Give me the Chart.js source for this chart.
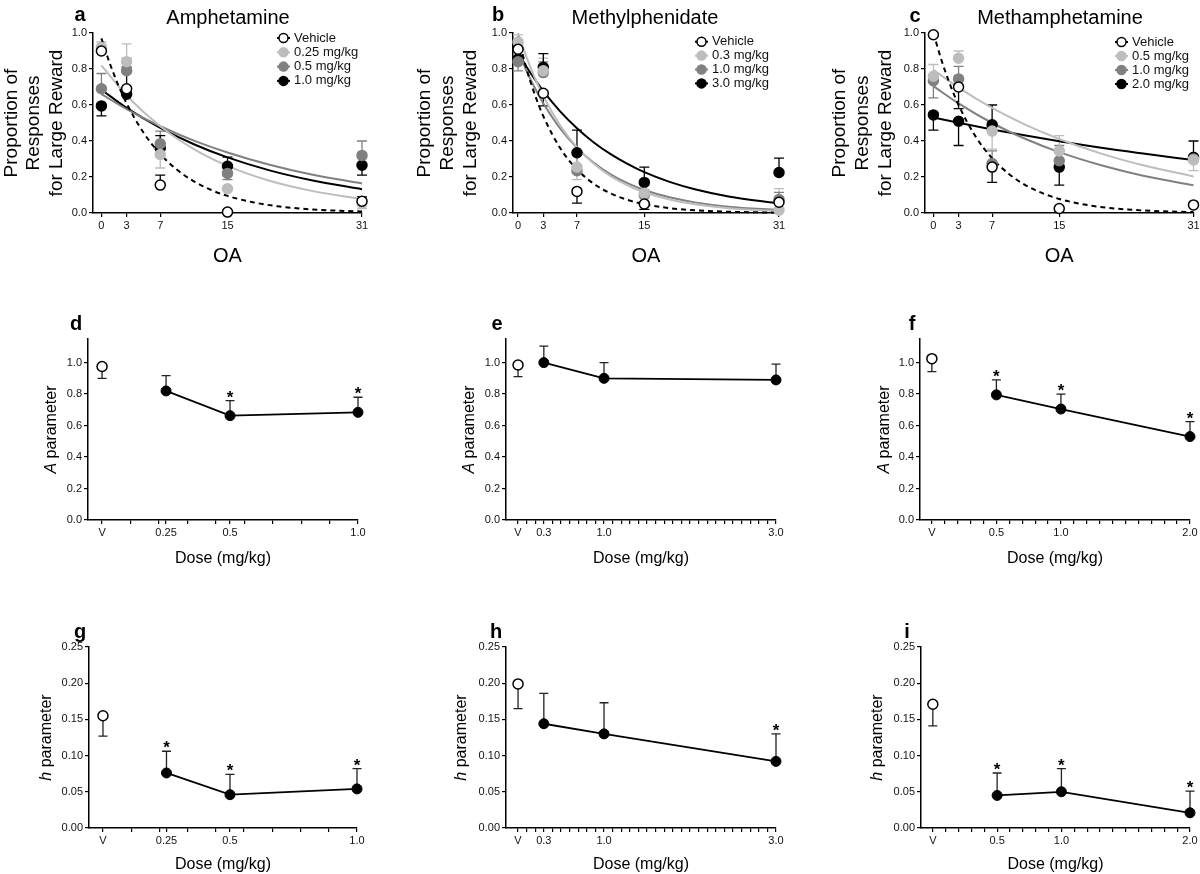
<!DOCTYPE html>
<html>
<head>
<meta charset="utf-8">
<title>Psychostimulants and delay discounting</title>
<script src="https://cdn.jsdelivr.net/npm/chart.js@4.4.1/dist/chart.umd.min.js"></script>
<style>
  html, body { margin: 0; padding: 0; background: #fff; }
  body { position: relative; width: 1200px; height: 874px; overflow: hidden; }
  canvas { position: absolute; }
</style>
</head>
<body>
<canvas id="pa"></canvas><canvas id="pb"></canvas><canvas id="pc"></canvas>
<canvas id="pd"></canvas><canvas id="pe"></canvas><canvas id="pf"></canvas>
<canvas id="pg"></canvas><canvas id="ph"></canvas><canvas id="pi"></canvas>
<script>
// ---- données ----
const OA = [0, 3, 7, 15, 31];
const OA_TICK_LABELS = ['0', '3', '7', '15', '31'];
const PROP_TICKS = [0, 0.2, 0.4, 0.6, 0.8, 1.0];
const A_TICKS = [0, 0.2, 0.4, 0.6, 0.8, 1.0];
const H_TICKS = [0, 0.05, 0.10, 0.15, 0.20, 0.25];

// x des courbes ajustées
const FINE_X = [0, 1, 2, 3, 5, 7, 9, 11, 13, 15, 18, 21, 25, 31];
const COARSE_X = [0, 3, 7, 11, 15, 20, 25, 31];

// Amphétamine (a)
const amphLabels = ['Vehicle', '0.25 mg/kg', '0.5 mg/kg', '1.0 mg/kg'];
const amphVeh = [0.90, 0.69, 0.155, 0.005, 0.065];
const amphVehErr = [0.03, 0, 0.055, 0, 0.025];
const amph025 = [0.92, 0.84, 0.325, 0.135, 0.055];
const amph025Err = [0.03, 0.10, -0.075, 0, -0.03];
const amph05 = [0.69, 0.79, 0.385, 0.22, 0.32];
const amph05Err = [0.085, 0.07, 0.07, -0.035, 0.08];
const amph10 = [0.595, 0.66, 0.36, 0.26, 0.265];
const amph10Err = [-0.055, 0.15, 0.07, 0.05, -0.055];
const amphVehFit = [0.97, 0.831, 0.711, 0.609, 0.447, 0.328, 0.240, 0.176, 0.129, 0.095, 0.060, 0.037, 0.020, 0.008];
const amph025Fit = [0.820, 0.653, 0.482, 0.355, 0.262, 0.179, 0.123, 0.078];
const amph05Fit = [0.660, 0.577, 0.482, 0.402, 0.336, 0.268, 0.214, 0.164];
const amph10Fit = [0.685, 0.584, 0.473, 0.382, 0.309, 0.237, 0.182, 0.132];

// Méthylphénidate (b)
const mphLabels = ['Vehicle', '0.3 mg/kg', '1.0 mg/kg', '3.0 mg/kg'];
const mphVeh = [0.91, 0.665, 0.12, 0.05, 0.06];
const mphVehErr = [0.02, -0.07, -0.065, -0.03, 0.02];
const mph03 = [0.95, 0.79, 0.255, 0.11, 0.015];
const mph03Err = [0.04, 0.07, -0.07, -0.03, 0.12];
const mph10 = [0.84, 0.78, 0.235, 0.10, 0.075];
const mph10Err = [-0.05, 0.06, 0.10, 0.03, 0.04];
const mph30 = [0.855, 0.81, 0.335, 0.17, 0.225];
const mph30Err = [0.05, 0.075, 0.125, 0.085, 0.08];
const mphVehFit = [0.98, 0.802, 0.657, 0.538, 0.361, 0.242, 0.162, 0.109, 0.073, 0.049, 0.027, 0.015, 0.007, 0.002];
const mph03Fit = [1.0, 0.866, 0.750, 0.649, 0.487, 0.365, 0.274, 0.205, 0.154, 0.115, 0.075, 0.049, 0.027, 0.011];
const mph10Fit = [0.90, 0.790, 0.694, 0.610, 0.470, 0.362, 0.279, 0.215, 0.166, 0.128, 0.087, 0.059, 0.035, 0.016];
const mph30Fit = [0.89, 0.813, 0.742, 0.677, 0.565, 0.471, 0.392, 0.327, 0.273, 0.227, 0.173, 0.132, 0.092, 0.053];

// Méthamphétamine (c)
const methLabels = ['Vehicle', '0.5 mg/kg', '1.0 mg/kg', '2.0 mg/kg'];
const methVeh = [0.99, 0.70, 0.255, 0.025, 0.045];
const methVehErr = [0, -0.12, -0.085, 0, 0];
const meth05 = [0.76, 0.86, 0.455, 0.345, 0.295];
const meth05Err = [0.065, 0.04, -0.10, 0.085, -0.06];
const meth10 = [0.735, 0.745, 0.275, 0.29, 0.30];
const meth10Err = [-0.095, 0.07, 0.07, 0.085, 0];
const meth20 = [0.545, 0.51, 0.49, 0.255, 0.31];
const meth20Err = [-0.085, -0.135, 0.11, -0.10, 0.09];
const methVehFit = [1.0, 0.844, 0.712, 0.600, 0.427, 0.304, 0.217, 0.154, 0.110, 0.078, 0.047, 0.028, 0.014, 0.005];
const meth05Fit = [0.795, 0.697, 0.584, 0.490, 0.411, 0.330, 0.265, 0.203];
const meth10Fit = [0.705, 0.609, 0.500, 0.411, 0.338, 0.265, 0.207, 0.154];
const meth20Fit = [0.53, 0.501, 0.464, 0.430, 0.399, 0.362, 0.330, 0.294];

// doses (d-i)
const amphDoses = [0.25, 0.5, 1.0];
const amphDoseTicks = [0, 0.25, 0.5, 1.0];
const amphDoseLabels = ['V', '0.25', '0.5', '1.0'];
const mphDoses = [0.3, 1.0, 3.0];
const mphDoseTicks = [0, 0.3, 1.0, 3.0];
const mphDoseLabels = ['V', '0.3', '1.0', '3.0'];
const methDoses = [0.5, 1.0, 2.0];
const methDoseTicks = [0, 0.5, 1.0, 2.0];
const methDoseLabels = ['V', '0.5', '1.0', '2.0'];

// paramètre A
const amphAVeh = 0.975, amphAVehErr = -0.075;
const amphA = [0.82, 0.663, 0.684];
const amphAErr = [0.097, 0.095, 0.096];
const amphAStars = [0, 1, 1];
const mphAVeh = 0.985, mphAVehErr = -0.074;
const mphA = [1.0, 0.90, 0.89];
const mphAErr = [0.105, 0.10, 0.10];
const mphAStars = [0, 0, 0];
const methAVeh = 1.025, methAVehErr = -0.082;
const methA = [0.795, 0.705, 0.53];
const methAErr = [0.095, 0.095, 0.095];
const methAStars = [1, 1, 1];

// paramètre h
const amphHVeh = 0.155, amphHVehErr = -0.028;
const amphH = [0.076, 0.046, 0.054];
const amphHErr = [0.030, 0.028, 0.028];
const amphHStars = [1, 1, 1];
const mphHVeh = 0.199, mphHVehErr = -0.034;
const mphH = [0.144, 0.130, 0.092];
const mphHErr = [0.042, 0.043, 0.038];
const mphHStars = [0, 0, 1];
const methHVeh = 0.171, methHVehErr = -0.030;
const methH = [0.045, 0.050, 0.021];
const methHErr = [0.031, 0.032, 0.030];
const methHStars = [1, 1, 1];

// ---- style ----
const FONT = "'Liberation Sans', Arial, sans-serif";
const COLORS = ['#000000', '#bdbdbd', '#808080', '#000000'];
Chart.defaults.font.family = FONT;
Chart.defaults.color = '#111';

// positions (px, page)
const LAYOUT = {
  a: { canvas: { left: 0, top: 0, w: 395, h: 268 }, area: { left: 93, top: 33, right: 362, bottom: 213 } },
  b: { canvas: { left: 400, top: 0, w: 400, h: 268 }, area: { left: 513, top: 33, right: 779, bottom: 213 } },
  c: { canvas: { left: 800, top: 0, w: 400, h: 268 }, area: { left: 925, top: 33, right: 1195, bottom: 213 } },
  d: { canvas: { left: 0, top: 300, w: 395, h: 268 }, area: { left: 88, top: 339, right: 358, bottom: 520 } },
  e: { canvas: { left: 400, top: 300, w: 400, h: 268 }, area: { left: 506, top: 339, right: 776, bottom: 520 } },
  f: { canvas: { left: 800, top: 300, w: 400, h: 268 }, area: { left: 920, top: 339, right: 1190, bottom: 520 } },
  g: { canvas: { left: 0, top: 600, w: 395, h: 274 }, area: { left: 89, top: 647, right: 357, bottom: 828 } },
  h: { canvas: { left: 400, top: 600, w: 400, h: 274 }, area: { left: 506, top: 647, right: 776, bottom: 828 } },
  i: { canvas: { left: 800, top: 600, w: 400, h: 274 }, area: { left: 921, top: 647, right: 1190, bottom: 828 } }
};

// barres d'erreur (+ vers le haut, - vers le bas) et astérisques
const errorBars = {
  id: 'errorBars',
  beforeDatasetsDraw(chart) {
    const ctx = chart.ctx, ys = chart.scales.y;
    chart.data.datasets.forEach((ds, i) => {
      if (!ds.errs) return;
      const meta = chart.getDatasetMeta(i);
      ctx.save();
      ctx.strokeStyle = ds.errColor || ds.borderColor;
      ctx.lineWidth = 1.3;
      meta.data.forEach((pt, j) => {
        const e = ds.errs[j];
        if (!e) return;
        const y1 = ys.getPixelForValue(ds.data[j].y + e);
        const cap = ds.capWidth || 5;
        ctx.beginPath();
        ctx.moveTo(pt.x, pt.y); ctx.lineTo(pt.x, y1);
        ctx.moveTo(pt.x - cap, y1); ctx.lineTo(pt.x + cap, y1);
        ctx.stroke();
        if (ds.stars && ds.stars[j]) {
          ctx.fillStyle = '#000';
          ctx.font = 'bold 17px ' + FONT;
          ctx.textAlign = 'center';
          ctx.textBaseline = 'alphabetic';
          ctx.fillText('*', pt.x, y1 + 2);
        }
      });
      ctx.restore();
    });
  }
};

// lettres, titres, légende, titre y en italique
const decor = {
  id: 'decor',
  afterDraw(chart, args, o) {
    const ctx = chart.ctx;
    const ox = o.origin[0], oy = o.origin[1];
    ctx.save();
    ctx.fillStyle = '#000';
    ctx.textAlign = 'center';
    ctx.textBaseline = 'middle';
    if (o.letter) {
      ctx.font = 'bold 20px ' + FONT;
      ctx.fillText(o.letter[0], o.letter[1] - ox, o.letter[2] - oy);
    }
    if (o.title) {
      ctx.font = '20px ' + FONT;
      ctx.fillText(o.title[0], o.title[1] - ox, o.title[2] - oy);
    }
    if (o.legend) {
      ctx.font = '13px ' + FONT;
      ctx.textAlign = 'left';
      o.legend.items.forEach((it, k) => {
        const tx = o.legend.x - ox, ty = o.legend.y - oy + k * o.legend.dy;
        ctx.strokeStyle = it.color;
        ctx.lineWidth = 2;
        ctx.beginPath(); ctx.moveTo(tx - 17, ty); ctx.lineTo(tx - 4, ty); ctx.stroke();
        ctx.beginPath(); ctx.arc(tx - 10.5, ty, 4.5, 0, Math.PI * 2);
        ctx.fillStyle = it.open ? '#fff' : it.color;
        ctx.fill();
        ctx.lineWidth = 1.5;
        ctx.stroke();
        ctx.fillStyle = '#111';
        ctx.fillText(it.text, tx, ty);
      });
    }
    if (o.yTitle) {
      const cy = (chart.chartArea.top + chart.chartArea.bottom) / 2;
      ctx.translate(o.yTitle[2] - ox, cy);
      ctx.rotate(-Math.PI / 2);
      ctx.font = 'italic 16px ' + FONT;
      const w1 = ctx.measureText(o.yTitle[0]).width;
      ctx.font = '16px ' + FONT;
      const w2 = ctx.measureText(o.yTitle[1]).width;
      const sx = -(w1 + w2) / 2;
      ctx.textAlign = 'left';
      ctx.font = 'italic 16px ' + FONT;
      ctx.fillText(o.yTitle[0], sx, 0);
      ctx.font = '16px ' + FONT;
      ctx.fillText(o.yTitle[1], sx + w1, 0);
    }
    ctx.restore();
  }
};

function axisLines() {
  return {
    grid: { display: true, drawOnChartArea: false, drawTicks: true, tickLength: 4, color: '#000', lineWidth: 1.2 },
    border: { display: true, color: '#000', width: 1.5 }
  };
}

function makeChart(id, L, datasets, xc, yc, decorOpts) {
  const cv = document.getElementById(id);
  cv.width = L.canvas.w; cv.height = L.canvas.h;
  cv.style.left = L.canvas.left + 'px'; cv.style.top = L.canvas.top + 'px';
  const yW = L.area.left - L.canvas.left;
  const xH = L.canvas.top + L.canvas.h - L.area.bottom;
  decorOpts.origin = [L.canvas.left, L.canvas.top];
  return new Chart(cv, {
    type: 'scatter',
    data: { datasets },
    options: {
      responsive: false, animation: false, devicePixelRatio: 1,
      events: [],
      layout: { padding: { left: 0, top: L.area.top - L.canvas.top, right: L.canvas.left + L.canvas.w - L.area.right, bottom: 0 } },
      plugins: { legend: { display: false }, tooltip: { enabled: false }, decor: decorOpts },
      scales: {
        x: Object.assign({
          type: 'linear', min: xc.min, max: xc.max,
          afterBuildTicks: s => { s.ticks = xc.ticks.map(v => ({ value: v })); },
          afterFit: s => { s.height = xH; s.paddingLeft = 0; s.paddingRight = 0; },
          ticks: { autoSkip: false, maxRotation: 0, padding: 2, font: { size: 11 }, color: '#111', callback: xc.label },
          title: { display: true, text: xc.title, font: { size: xc.titleSize }, color: '#000', padding: { top: 0, bottom: 0 } }
        }, axisLines()),
        y: Object.assign({
          type: 'linear', min: yc.min, max: yc.max,
          afterBuildTicks: s => { s.ticks = yc.ticks.map(v => ({ value: v })); },
          afterFit: s => { s.width = yW; s.paddingTop = 0; s.paddingBottom = 0; },
          ticks: { padding: 2, font: { size: 11 }, color: '#111', callback: v => v.toFixed(yc.digits) },
          title: yc.title ? { display: true, text: yc.title, font: { size: 19 }, color: '#000', padding: { top: yc.titlePad, bottom: 0 } } : { display: false }
        }, axisLines())
      }
    },
    plugins: [errorBars, decor]
  });
}

// ---- rangée du haut : proportion vs OA ----
function curvePanel(id, L, xmin, labels, pts, errs, fits, yPad, deco) {
  const ds = [];
  pts.forEach((vals, k) => {
    ds.push({
      data: OA.map((x, i) => ({ x, y: vals[i] })),
      errs: errs[k], capWidth: 5,
      showLine: false, pointRadius: 5, pointBorderWidth: 1.5,
      pointBackgroundColor: k === 0 ? '#fff' : COLORS[k],
      pointBorderColor: COLORS[k], borderColor: COLORS[k], clip: false
    });
  });
  fits.forEach((f, k) => {
    ds.push({
      data: f[0].map((x, i) => ({ x, y: f[1][i] })),
      showLine: true, pointRadius: 0, borderWidth: 2, borderColor: COLORS[k],
      borderDash: k === 0 ? [5, 4] : [], cubicInterpolationMode: 'monotone', clip: false
    });
  });
  deco.legend.items = labels.map((t, k) => ({ text: t, color: COLORS[k], open: k === 0 }));
  makeChart(id, L, ds,
    { min: xmin, max: 31, ticks: OA, label: (v) => OA_TICK_LABELS[OA.indexOf(v)], title: 'OA', titleSize: 20 },
    { min: 0, max: 1, ticks: PROP_TICKS, digits: 1, title: ['Proportion of', 'Responses', 'for Large Reward'], titlePad: yPad },
    deco);
}

curvePanel('pa', LAYOUT.a, -1, amphLabels,
  [amphVeh, amph025, amph05, amph10], [amphVehErr, amph025Err, amph05Err, amph10Err],
  [[FINE_X, amphVehFit], [COARSE_X, amph025Fit], [COARSE_X, amph05Fit], [COARSE_X, amph10Fit]], 0,
  { letter: ['a', 80, 15], title: ['Amphetamine', 228, 18], legend: { x: 294, y: 38, dy: 14.3 } });

curvePanel('pb', LAYOUT.b, -0.6, mphLabels,
  [mphVeh, mph03, mph10, mph30], [mphVehErr, mph03Err, mph10Err, mph30Err],
  [[FINE_X, mphVehFit], [FINE_X, mph03Fit], [FINE_X, mph10Fit], [FINE_X, mph30Fit]], 13.6,
  { letter: ['b', 498, 15], title: ['Methylphenidate', 645, 18], legend: { x: 712, y: 41.7, dy: 13.9 } });

curvePanel('pc', LAYOUT.c, -1, methLabels,
  [methVeh, meth05, meth10, meth20], [methVehErr, meth05Err, meth10Err, meth20Err],
  [[FINE_X, methVehFit], [COARSE_X, meth05Fit], [COARSE_X, meth10Fit], [COARSE_X, meth20Fit]], 28.6,
  { letter: ['c', 915, 16], title: ['Methamphetamine', 1060, 18], legend: { x: 1132, y: 42, dy: 14 } });

// ---- rangées A et h : paramètre vs dose ----
function minorTicks(max, step, major) {
  const out = major.slice();
  for (let k = 1; k * step < max - 1e-6; k++) {
    const v = k * step;
    if (!major.some(m => Math.abs(m - v) < 0.02)) out.push(v);
  }
  return out.sort((p, q) => p - q);
}

function dosePanel(id, L, xmin, xmax, step, doses, tickVals, tickLabels, veh, vehErr, vals, errs, stars, yc, deco) {
  const ds = [
    { data: [{ x: 0, y: veh }], errs: [vehErr], errColor: '#222', capWidth: 4.5,
      showLine: false, pointRadius: 5, pointBorderWidth: 1.5, pointBackgroundColor: '#fff', pointBorderColor: '#000', borderColor: '#000', clip: false },
    { data: doses.map((x, i) => ({ x, y: vals[i] })), errs, stars, errColor: '#222', capWidth: 4.5,
      showLine: true, borderWidth: 1.8, borderColor: '#000', pointRadius: 5, pointBorderWidth: 1,
      pointBackgroundColor: '#000', pointBorderColor: '#000', clip: false }
  ];
  const label = v => {
    const k = tickVals.findIndex(t => Math.abs(t - v) < 1e-6);
    return k >= 0 ? tickLabels[k] : '';
  };
  makeChart(id, L, ds,
    { min: xmin, max: xmax, ticks: minorTicks(xmax, step, tickVals), label, title: 'Dose (mg/kg)', titleSize: 16 },
    yc, deco);
}

const A_AXIS = { min: 0, max: 1.15, ticks: A_TICKS, digits: 1 };
const H_AXIS = { min: 0, max: 0.25, ticks: H_TICKS, digits: 2 };

dosePanel('pd', LAYOUT.d, -0.055, 1.0, 1 / 9, amphDoses, amphDoseTicks, amphDoseLabels,
  amphAVeh, amphAVehErr, amphA, amphAErr, amphAStars, A_AXIS,
  { letter: ['d', 76, 324], yTitle: ['A', ' parameter', 52] });
dosePanel('pe', LAYOUT.e, -0.14, 3.0, 0.1, mphDoses, mphDoseTicks, mphDoseLabels,
  mphAVeh, mphAVehErr, mphA, mphAErr, mphAStars, A_AXIS,
  { letter: ['e', 497, 324], yTitle: ['A', ' parameter', 470] });
dosePanel('pf', LAYOUT.f, -0.092, 2.0, 0.1, methDoses, methDoseTicks, methDoseLabels,
  methAVeh, methAVehErr, methA, methAErr, methAStars, A_AXIS,
  { letter: ['f', 912, 324], yTitle: ['A', ' parameter', 885] });

dosePanel('pg', LAYOUT.g, -0.055, 1.0, 1 / 9, amphDoses, amphDoseTicks, amphDoseLabels,
  amphHVeh, amphHVehErr, amphH, amphHErr, amphHStars, H_AXIS,
  { letter: ['g', 80, 632], yTitle: ['h', ' parameter', 47] });
dosePanel('ph', LAYOUT.h, -0.14, 3.0, 0.1, mphDoses, mphDoseTicks, mphDoseLabels,
  mphHVeh, mphHVehErr, mphH, mphHErr, mphHStars, H_AXIS,
  { letter: ['h', 496, 632], yTitle: ['h', ' parameter', 462] });
dosePanel('pi', LAYOUT.i, -0.092, 2.0, 0.1, methDoses, methDoseTicks, methDoseLabels,
  methHVeh, methHVehErr, methH, methHErr, methHStars, H_AXIS,
  { letter: ['i', 907, 632], yTitle: ['h', ' parameter', 878] });
</script>
</body>
</html>
